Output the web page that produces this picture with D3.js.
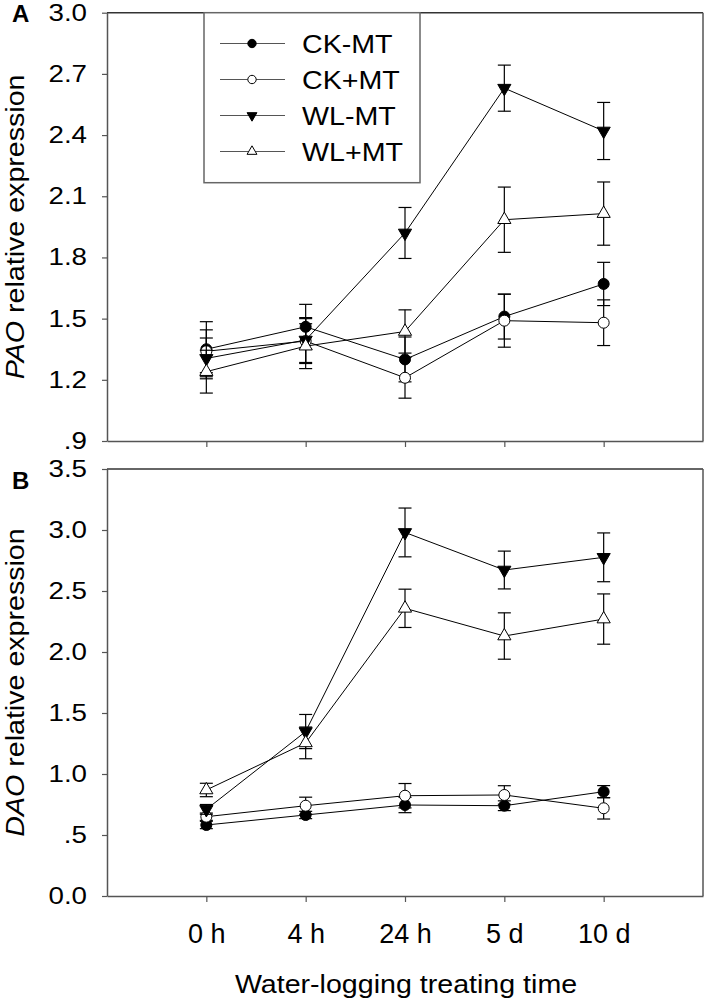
<!DOCTYPE html>
<html>
<head>
<meta charset="utf-8">
<script src="https://cdn.jsdelivr.net/npm/d3@7/dist/d3.min.js"></script>
<style>
  html, body { margin: 0; padding: 0; background: #fff; }
  svg { display: block; }
  text { font-family: "Liberation Sans", Arial, sans-serif; fill: #000; }
</style>
</head>
<body>
<svg id="chart" width="706" height="1004"></svg>
<script>
// ---------- data ----------
const categories = ["0 h", "4 h", "24 h", "5 d", "10 d"];
const seriesNames = ["CK-MT", "CK+MT", "WL-MT", "WL+MT"];

// Panel A: PAO relative expression
const paoCKminus    = [1.35, 1.46, 1.30, 1.51, 1.67];
const paoCKminusErr = [0.135, 0.11, 0.11, 0.11, 0.106];
const paoCKplus     = [1.34, 1.39, 1.21, 1.49, 1.48];
const paoCKplusErr  = [0.105, 0.11, 0.10, 0.13, 0.112];
const paoWLminus    = [1.305, 1.395, 1.92, 2.63, 2.42];
const paoWLminusErr = [0.10, 0.11, 0.125, 0.113, 0.14];
const paoWLplus     = [1.24, 1.365, 1.437, 1.985, 2.015];
const paoWLplusErr  = [0.105, 0.11, 0.106, 0.16, 0.155];

// Panel B: DAO relative expression
const daoCKminus    = [0.582, 0.664, 0.746, 0.74, 0.855];
const daoCKminusErr = [0.03, 0.03, 0.063, 0.04, 0.05];
const daoCKplus     = [0.65, 0.74, 0.822, 0.828, 0.719];
const daoCKplusErr  = [0.03, 0.07, 0.10, 0.076, 0.088];
const daoWLminus    = [0.71, 1.348, 2.98, 2.672, 2.776];
const daoWLminusErr = [0.04, 0.14, 0.20, 0.155, 0.20];
const daoWLplus     = [0.869, 1.255, 2.358, 2.131, 2.27];
const daoWLplusErr  = [0.055, 0.13, 0.157, 0.19, 0.206];

const paoTicks = [0.9, 1.2, 1.5, 1.8, 2.1, 2.4, 2.7, 3.0];
const paoTickLabels = [".9", "1.2", "1.5", "1.8", "2.1", "2.4", "2.7", "3.0"];
const daoTicks = [0.0, 0.5, 1.0, 1.5, 2.0, 2.5, 3.0, 3.5];
const daoTickLabels = ["0.0", ".5", "1.0", "1.5", "2.0", "2.5", "3.0", "3.5"];

const xTitle = "Water-logging treating time";

// ---------- layout ----------
const svg = d3.select("#chart");
const left = 107, right = 703;
const AXIS = "#555";

const x = d3.scaleLinear().domain([-1, categories.length]).range([left, right]);

const markerStyles = [
  { sym: d3.symbolCircle, fill: "#000", size: 95, legendSize: 55 },
  { sym: d3.symbolCircle, fill: "#fff", size: 95, legendSize: 55 },
  { sym: d3.symbolTriangle, fill: "#000", size: 75, legendSize: 42, rot: 180 },
  { sym: d3.symbolTriangle, fill: "#fff", size: 75, legendSize: 42, rot: 0 }
];

function drawPanel(cfg) {
  const y = d3.scaleLinear().domain(cfg.domain).range([cfg.bottom, cfg.top]);
  const g = svg.append("g");

  // y axis
  const yAxis = d3.axisLeft(y).tickValues(cfg.ticks)
    .tickFormat((d, i) => cfg.tickLabels[i]).tickSize(5).tickPadding(15).tickSizeOuter(0);
  const ya = g.append("g").attr("transform", `translate(${left},0)`).call(yAxis);
  ya.select(".domain").attr("stroke", AXIS).attr("stroke-width", 1.5);
  ya.selectAll(".tick line").attr("stroke", AXIS).attr("stroke-width", 1.2);
  ya.selectAll(".tick text").attr("font-size", 23.5)
    .attr("font-family", "Liberation Sans, Arial, sans-serif")
    .attr("x", 0).attr("transform", "translate(-20,0) scale(1.18,1)");

  // x axis
  const xAxis = d3.axisBottom(x).tickValues(d3.range(categories.length))
    .tickFormat(i => cfg.showXLabels ? categories[i] : "").tickSize(6).tickPadding(22).tickSizeOuter(0);
  const xa = g.append("g").attr("transform", `translate(0,${cfg.bottom})`).call(xAxis);
  xa.select(".domain").attr("stroke", AXIS).attr("stroke-width", 1.5);
  xa.selectAll(".tick line").attr("stroke", AXIS).attr("stroke-width", 1.2);
  xa.selectAll(".tick text").attr("font-size", 27).attr("font-family", "Liberation Sans, Arial, sans-serif");

  // top & right frame
  g.append("line").attr("x1", left).attr("x2", right).attr("y1", cfg.top).attr("y2", cfg.top)
    .attr("stroke", "#333").attr("stroke-width", 1.5);
  g.append("line").attr("x1", right).attr("x2", right).attr("y1", cfg.top).attr("y2", cfg.bottom)
    .attr("stroke", AXIS).attr("stroke-width", 1.5);

  // y title
  const yt = g.append("text")
    .attr("transform", `translate(24,${(cfg.top + cfg.bottom) / 2}) rotate(-90) scale(1.1,1)`)
    .attr("text-anchor", "middle").attr("font-size", 26);
  yt.append("tspan").attr("font-style", "italic").text(cfg.gene);
  yt.append("tspan").text(" relative expression");

  // panel letter
  g.append("text").attr("x", 12).attr("y", cfg.letterY).attr("font-size", 24)
    .attr("font-weight", "bold").text(cfg.letter);

  // series
  const line = d3.line().x((d, i) => x(i)).y(d => y(d));
  cfg.series.forEach((s, si) => {
    const sg = g.append("g");
    sg.append("path").datum(s.values).attr("d", line)
      .attr("fill", "none").attr("stroke", "#000").attr("stroke-width", 1);
    const eb = sg.selectAll(".eb").data(s.values).enter().append("g");
    eb.append("line").attr("x1", (d, i) => x(i)).attr("x2", (d, i) => x(i))
      .attr("y1", (d, i) => y(d + s.err[i])).attr("y2", (d, i) => y(d - s.err[i]))
      .attr("stroke", "#000").attr("stroke-width", 1.2);
    [1, -1].forEach(sign => {
      eb.append("line").attr("x1", (d, i) => x(i) - 6.5).attr("x2", (d, i) => x(i) + 6.5)
        .attr("y1", (d, i) => y(d + sign * s.err[i])).attr("y2", (d, i) => y(d + sign * s.err[i]))
        .attr("stroke", "#000").attr("stroke-width", 1.2);
    });
    const ms = markerStyles[si];
    sg.selectAll(".mk").data(s.values).enter().append("path")
      .attr("d", d3.symbol().type(ms.sym).size(ms.size))
      .attr("transform", (d, i) => `translate(${x(i)},${y(d)}) rotate(${ms.rot || 0})`)
      .attr("fill", ms.fill).attr("stroke", "#000").attr("stroke-width", 1);
  });
  return g;
}

drawPanel({
  top: 12.7, bottom: 441, domain: [0.9, 3.0], ticks: paoTicks, tickLabels: paoTickLabels,
  gene: "PAO", letter: "A", letterY: 22, showXLabels: false,
  series: [
    { values: paoCKminus, err: paoCKminusErr },
    { values: paoCKplus, err: paoCKplusErr },
    { values: paoWLminus, err: paoWLminusErr },
    { values: paoWLplus, err: paoWLplusErr }
  ]
});

drawPanel({
  top: 469, bottom: 896, domain: [0, 3.5], ticks: daoTicks, tickLabels: daoTickLabels,
  gene: "DAO", letter: "B", letterY: 489, showXLabels: true,
  series: [
    { values: daoCKminus, err: daoCKminusErr },
    { values: daoCKplus, err: daoCKplusErr },
    { values: daoWLminus, err: daoWLminusErr },
    { values: daoWLplus, err: daoWLplusErr }
  ]
});

// x title
svg.append("text").attr("transform", "translate(406,993) scale(1.1,1)").attr("text-anchor", "middle")
  .attr("font-size", 26).text(xTitle);

// legend
const lg = svg.append("g");
lg.append("rect").attr("x", 204).attr("y", 12.7).attr("width", 216).attr("height", 170)
  .attr("fill", "#fff").attr("stroke", "#666").attr("stroke-width", 1.5);
seriesNames.forEach((name, i) => {
  const yy = 43.5 + i * 36;
  lg.append("line").attr("x1", 220).attr("x2", 285).attr("y1", yy).attr("y2", yy)
    .attr("stroke", "#555").attr("stroke-width", 1.2);
  const ms = markerStyles[i];
  lg.append("path").attr("d", d3.symbol().type(ms.sym).size(ms.legendSize))
    .attr("transform", `translate(252,${yy}) rotate(${ms.rot || 0})`)
    .attr("fill", ms.fill).attr("stroke", "#000").attr("stroke-width", 1);
  lg.append("text").attr("transform", `translate(302,${yy}) scale(1.08,1)`).attr("dy", "0.36em")
    .attr("font-size", 26.5).text(name);
});
</script>
</body>
</html>
